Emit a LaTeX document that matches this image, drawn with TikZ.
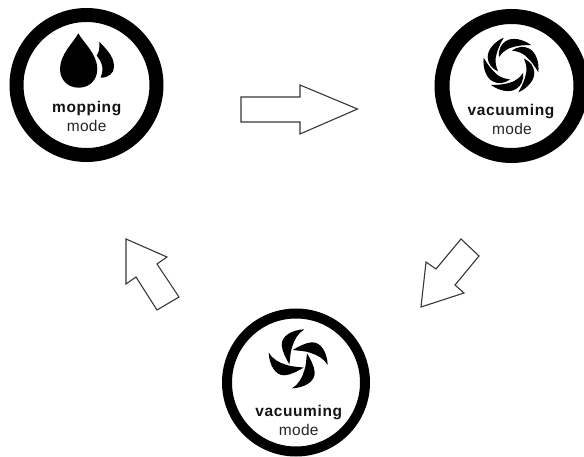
\documentclass[tikz,border=0pt]{standalone}
\usepackage{fontspec}
\setmainfont{Liberation Sans}
\begin{document}
\begin{tikzpicture}[x=1pt,y=-1pt,
  ring/.style={circle,draw=black,fill=white,inner sep=0pt,outer sep=0pt},
  flow/.style={draw=black!78,line width=1.1pt,fill=white,line join=miter},
  blade/.style={fill=black,draw=none},
  boldlabel/.style={anchor=base,inner sep=0pt,font={\fontsize{15.5}{17}\selectfont\bfseries\addfontfeature{LetterSpace=4}},text=black!92},
  modelabel/.style={anchor=base,inner sep=0pt,font={\fontsize{15.5}{17}\selectfont\addfontfeature{LetterSpace=2}},text=black!85}]
\useasboundingbox (0,0) rectangle (584,457);
\clip (0,0) rectangle (584,457);
\fill[white] (0,0) rectangle (584,457);
% rings
\node[ring,line width=14pt,minimum size=140pt] (mop) at (86.5,85) {};
\node[ring,line width=15pt,minimum size=139pt] (vacA) at (511.5,86) {};
\node[ring,line width=10pt,minimum size=138pt] (vacB) at (296,382.5) {};
% drops
\fill (78.3,33.3) .. controls (74,42) and (60,54) .. (60,69)
  .. controls (60,80) and (68,87.7) .. (78.7,87.7)
  .. controls (89.5,87.7) and (97.3,80) .. (97.3,69)
  .. controls (97.3,54) and (83,42) .. (78.3,33.3) -- cycle;
\fill (99.3,41.7) .. controls (106,49) and (114,56) .. (114,66.7)
  .. controls (114,73) and (109,77.7) .. (100.5,77.7)
  .. controls (102,74) and (102.8,71) .. (102.3,67)
  .. controls (101.8,63) and (99.5,59) .. (96.7,55.7)
  .. controls (98,53) and (99.3,51) .. (99.3,47) -- cycle;
% six-blade fan
\foreach \a in {0,60,...,300}
  \fill[blade,shift={(511,65)},rotate=\a]
    (20,-20) .. controls (12,-26) and (1,-28) .. (-5,-24)
    .. controls (-10,-21) and (-13,-15) .. (-12,-8)
    .. controls (-9,-12) and (-6,-15) .. (-1,-17)
    .. controls (6,-19.5) and (13,-20) .. (20,-20) -- cycle;
% four-blade fan
\foreach \a in {0,90,180,270}
  \fill[blade,shift={(298.2,358.8)},rotate=\a]
    (6.2,-29.5) .. controls (-6,-29) and (-17,-23) .. (-16.5,-13.5)
    .. controls (-16,-7) and (-12,0) .. (-8.8,5.5)
    .. controls (-8,0) and (-8,-7) .. (-6,-12)
    .. controls (-4,-19) and (0,-26) .. (6.2,-29.5) -- cycle;
% labels
\node[boldlabel] (t1) at (86.7,113) {mopping};
\node[modelabel] (m1) at (86.7,131.7) {mode};
\node[boldlabel] (t2) at (511,116) {vacuuming};
\node[modelabel] (m2) at (512,135) {mode};
\node[boldlabel] (t3) at (298.7,416) {vacuuming};
\node[modelabel] (m3) at (298.7,435) {mode};
% block arrows
\draw[flow] (241,97) -- (300,97) -- (300,85) -- (357.5,109) -- (300,134) -- (300,122) -- (241,122) -- cycle;
\draw[flow] (461,239) -- (479,256) -- (455,285) -- (464,293) -- (421,307) -- (426,262) -- (436,269) -- cycle;
\draw[flow] (126,239) -- (167,257) -- (157,264) -- (179,297) -- (157,310) -- (136,277) -- (126,284) -- cycle;
\end{tikzpicture}
\end{document}
